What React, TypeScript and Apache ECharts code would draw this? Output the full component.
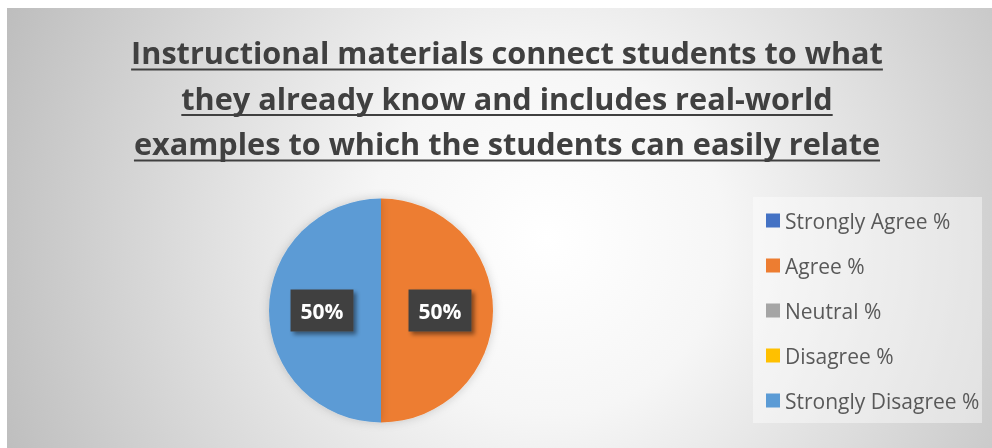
import React, { useEffect, useRef } from "react";
import * as echarts from "echarts";

const titleLines: string[] = [
  "Instructional materials connect students to what",
  "they already know and includes real-world",
  "examples to which the students can easily relate",
];
const categories: string[] = [
  "Strongly Agree %",
  "Agree %",
  "Neutral %",
  "Disagree %",
  "Strongly Disagree %",
];
const values: number[] = [0, 50, 0, 0, 50];

const palette = ["#4472C4", "#ED7D31", "#A5A5A5", "#FFC000", "#5B9BD5"];

function measure(text: string, font: string): number {
  const c = document.createElement("canvas");
  const ctx = c.getContext("2d");
  if (!ctx) return text.length * 15;
  ctx.font = font;
  return ctx.measureText(text).width;
}

export default function App() {
  const ref = useRef<HTMLDivElement>(null);
  useEffect(() => {
    if (!ref.current) return;
    const chart = echarts.init(ref.current, null, { renderer: "svg" });
    const cx = 500;
    // fit the title font so its first line spans the reference width
    const base = measure(titleLines[0], "bold 28px 'Open Sans'");
    const fs = Math.min(32, Math.max(20, (28 * 752) / base));
    const TITLE_FONT = `bold ${fs.toFixed(2)}px 'Open Sans'`;
    const lineTops = [44, 89.5, 135];
    const underlineY = [61.5, 107, 152.5];
    const graphics: any[] = [
      {
        type: "rect",
        z: -10,
        shape: { x: 0, y: 0, width: 985, height: 440 },
        style: {
          fill: new echarts.graphic.RadialGradient(540, 230, 590, [
            { offset: 0, color: "#ffffff" },
            { offset: 0.3, color: "#f6f6f6" },
            { offset: 1, color: "#bdbdbd" },
          ], true),
        },
        silent: true,
      },
      {
        type: "rect",
        z: -5,
        shape: { x: 746, y: 189, width: 229, height: 226 },
        style: { fill: "rgba(255,255,255,0.42)" },
        silent: true,
      },
    ];
    titleLines.forEach((t, i) => {
      const w = measure(t, TITLE_FONT);
      graphics.push({
        type: "text",
        x: cx,
        y: lineTops[i],
        style: {
          text: t,
          font: TITLE_FONT,
          fill: "#404040",
          textAlign: "center",
          textVerticalAlign: "middle",
        },
      });
      graphics.push({
        type: "line",
        shape: { x1: cx - w / 2, y1: underlineY[i], x2: cx + w / 2, y2: underlineY[i] },
        style: { stroke: "#404040", lineWidth: 2 },
      });
    });

    chart.setOption({
      animation: false,
      color: palette,
      graphic: graphics,
      legend: {
        orient: "vertical",
        left: 759,
        top: 202,
        padding: 0,
        itemWidth: 14,
        itemHeight: 14,
        itemGap: 24,
        icon: "rect",
        data: categories,
        textStyle: {
          fontFamily: "Open Sans",
          fontSize: 21,
          lineHeight: 21,
          color: "#595959",
        },
      },
      series: [
        {
          type: "pie",
          center: [374, 302.5],
          radius: [0, 112],
          startAngle: 90,
          clockwise: true,
          avoidLabelOverlap: false,
          itemStyle: {
            shadowBlur: 10,
            shadowColor: "rgba(0,0,0,0.18)",
          },
          label: {
            position: "inside",
            formatter: (p: any) => `${Math.round(p.percent)}%`,
            color: "#ffffff",
            fontFamily: "Open Sans",
            fontWeight: "bold",
            fontSize: 21,
            lineHeight: 22,
            backgroundColor: "#404040",
            padding: [10, 10],
            shadowBlur: 4,
            shadowOffsetX: 3,
            shadowOffsetY: 3,
            shadowColor: "rgba(0,0,0,0.45)",
          },
          labelLine: { show: false },
          emphasis: { disabled: true },
          data: categories.map((name, i) => ({
            name,
            value: values[i],
            label: { show: values[i] > 0 },
          })),
        },
      ],
    });
    return () => chart.dispose();
  }, []);
  return (
    <div
      ref={ref}
      style={{ position: "fixed", left: 7, top: 8, width: 985, height: 440 }}
    />
  );
}
